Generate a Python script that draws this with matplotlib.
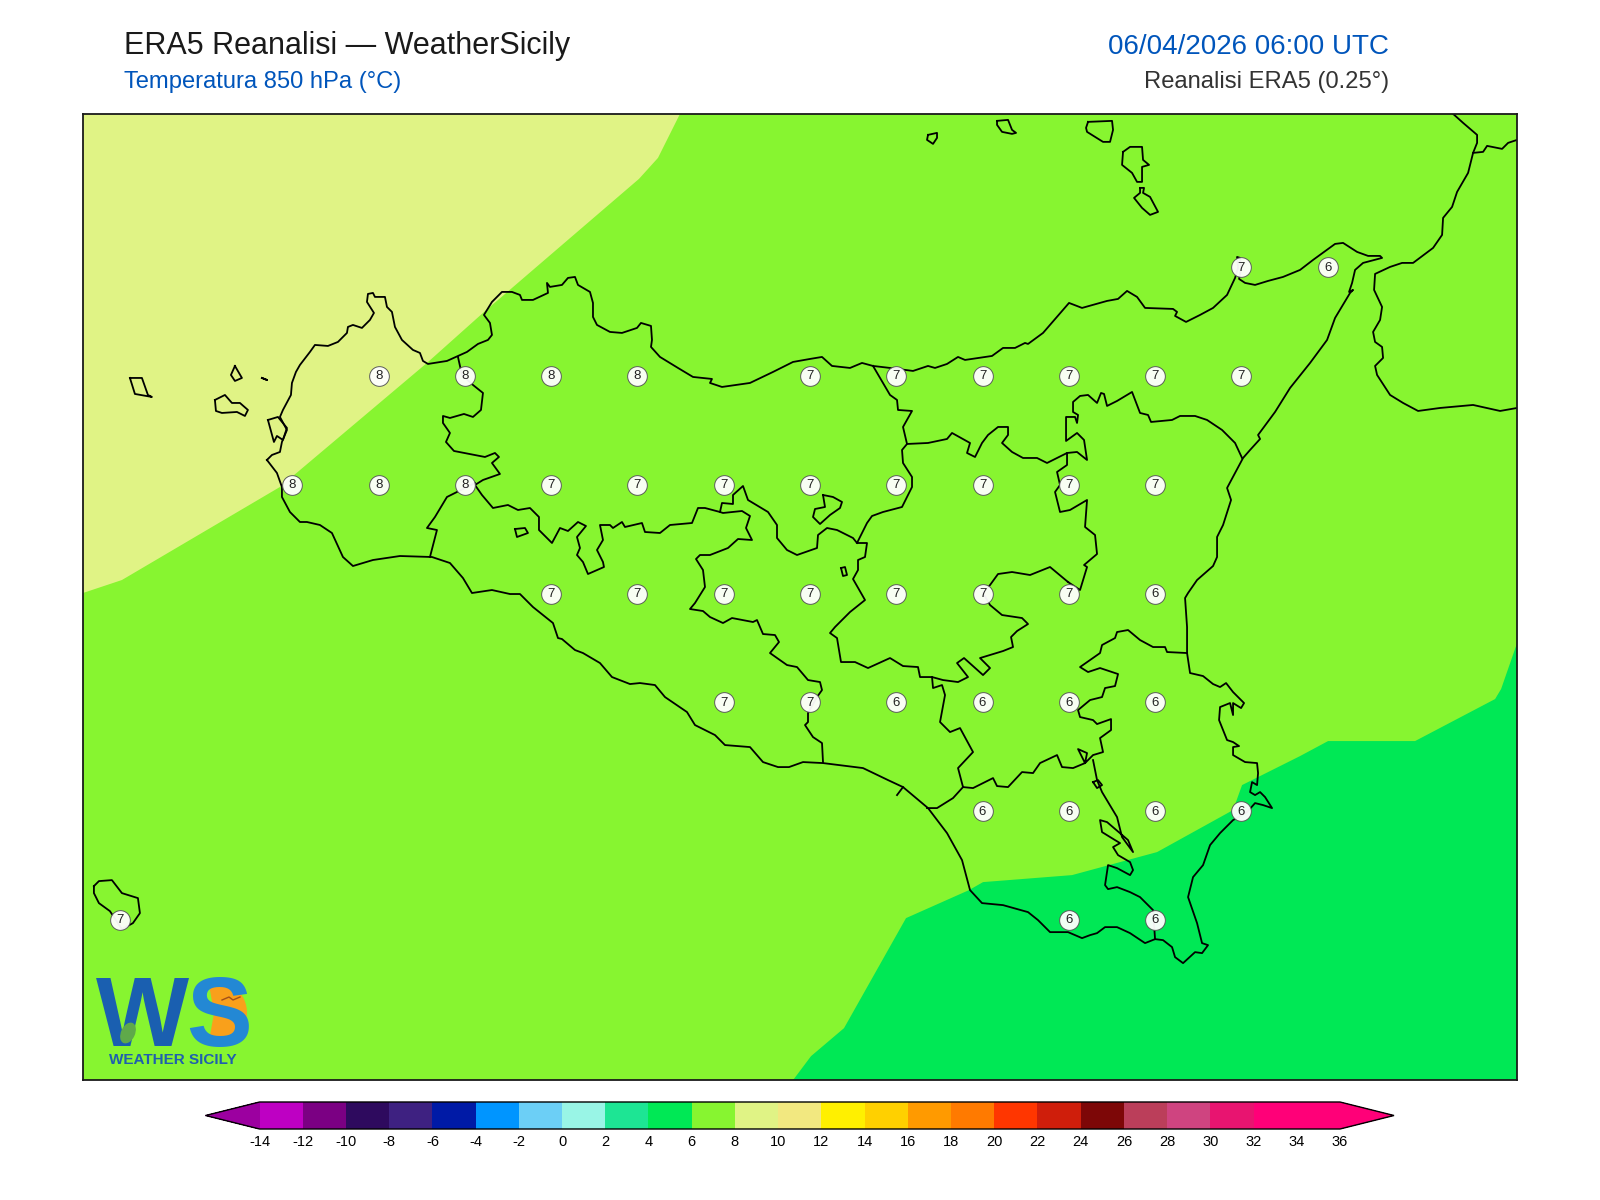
import matplotlib
matplotlib.use("Agg")
import matplotlib.pyplot as plt
from matplotlib.colors import ListedColormap, BoundaryNorm
from matplotlib.cm import ScalarMappable
from matplotlib.patches import Wedge, Ellipse

plt.rcParams['font.family'] = ['Liberation Sans', 'DejaVu Sans']

# colour scale of the map (degC)
LEVELS = list(range(-14, 37, 2))
BAND_COLORS = ["#BE00C3", "#7B0083", "#2E0A5E", "#3E2181", "#001AA6", "#0095FF",
               "#6CCFF6", "#99F5E6", "#1DE594", "#00E855", "#87F530", "#E0F385",
               "#F2E880", "#FFF000", "#FFD000", "#FF9A00", "#FF7A00", "#FF3600",
               "#CF1E0B", "#7D0707", "#BB3E5A", "#CF4480", "#E81470", "#FF0078",
               "#FF0078"]
UNDER_COLOR = "#9C00A0"
OVER_COLOR = "#FF0078"

# grid point labels, one list per latitude row
ROW_LATS = [38.25, 38.0, 37.75, 37.5, 37.25, 37.0, 36.75]
ROW_LONS = [
    [15.25, 15.5],
    [12.75, 13.0, 13.25, 13.5, 14.0, 14.25, 14.5, 14.75, 15.0, 15.25],
    [12.5, 12.75, 13.0, 13.25, 13.5, 13.75, 14.0, 14.25, 14.5, 14.75, 15.0],
    [13.25, 13.5, 13.75, 14.0, 14.25, 14.5, 14.75, 15.0],
    [13.75, 14.0, 14.25, 14.5, 14.75, 15.0],
    [14.5, 14.75, 15.0, 15.25],
    [12.0, 14.75, 15.0],
]
ROW_TEMPS = [
    [7, 6],
    [8, 8, 8, 8, 7, 7, 7, 7, 7, 7],
    [8, 8, 8, 7, 7, 7, 7, 7, 7, 7, 7],
    [7, 7, 7, 7, 7, 7, 7, 6],
    [7, 7, 6, 6, 6, 6],
    [6, 6, 6, 6],
    [7, 6, 6],
]

CONTOUR_10 = [(83, 593), (122, 580), (280, 487), (427, 363), (483, 313), (533, 270),
              (639, 179), (658, 158), (680, 114)]
CONTOUR_6 = [(793, 1080), (811, 1056), (844, 1028), (906, 918), (969, 890), (983, 882),
             (1072, 875), (1157, 852), (1233, 810), (1242, 785), (1300, 756), (1328, 741),
             (1415, 741), (1495, 699), (1501, 689), (1517, 643)]

COAST = [(267, 460), (272, 455), (280, 452), (282, 442), (287, 430), (280, 417), (283, 410),
         (291, 395), (292, 383), (296, 372), (300, 365), (310, 352), (315, 345), (328, 346),
         (338, 342), (347, 333), (348, 327), (353, 325), (362, 328), (370, 320), (374, 313),
         (367, 302), (368, 294), (373, 293), (375, 297), (385, 297), (387, 307), (392, 312),
         (395, 327), (402, 340), (413, 350), (420, 353), (423, 361), (428, 364), (447, 361),
         (467, 352), (478, 344), (488, 340), (492, 335), (490, 323), (484, 315), (492, 302),
         (502, 292), (512, 292), (520, 295), (522, 300), (533, 300), (548, 293), (547, 283),
         (550, 287), (562, 285), (568, 278), (575, 277), (578, 285), (590, 292), (593, 303),
         (593, 317), (597, 325), (610, 332), (622, 333), (637, 328), (641, 323), (651, 326),
         (652, 340), (651, 347), (660, 357), (678, 368), (693, 377), (712, 379), (710, 383),
         (722, 387), (750, 383), (773, 372), (793, 362), (810, 359), (822, 357), (832, 366),
         (850, 368), (862, 363), (873, 366), (890, 368), (913, 371), (928, 366), (935, 368),
         (947, 364), (958, 357), (965, 360), (992, 356), (1003, 348), (1015, 348), (1025, 343),
         (1028, 344), (1043, 333), (1069, 303), (1082, 308), (1107, 301), (1118, 299),
         (1127, 291), (1137, 297), (1145, 308), (1173, 309), (1177, 312), (1175, 316),
         (1186, 322), (1200, 315), (1213, 308), (1227, 295), (1235, 278), (1238, 268),
         (1237, 257), (1240, 258), (1241, 268), (1239, 279), (1245, 283), (1255, 285),
         (1268, 281), (1283, 277), (1300, 270), (1313, 260), (1335, 244), (1343, 243),
         (1357, 252), (1368, 256), (1380, 256), (1382, 258), (1363, 263), (1355, 270),
         (1352, 283), (1349, 292), (1353, 290), (1350, 293), (1335, 318), (1327, 340),
         (1310, 363), (1290, 388), (1275, 412), (1258, 435), (1260, 439), (1250, 450),
         (1243, 458), (1227, 488), (1231, 500), (1223, 525), (1217, 537), (1217, 557),
         (1213, 566), (1197, 580), (1188, 593), (1185, 598), (1187, 627), (1187, 653),
         (1190, 673), (1203, 676), (1213, 684), (1220, 687), (1226, 683), (1233, 692),
         (1244, 703), (1241, 708), (1233, 703), (1233, 715), (1230, 703), (1220, 707),
         (1219, 720), (1227, 740), (1233, 742), (1239, 746), (1233, 747), (1233, 755),
         (1245, 762), (1257, 763), (1258, 773), (1257, 785), (1252, 782), (1250, 792),
         (1255, 795), (1260, 792), (1265, 797), (1272, 808), (1263, 805), (1255, 803),
         (1247, 812), (1233, 820), (1220, 833), (1210, 845), (1203, 865), (1193, 877),
         (1188, 897), (1197, 923), (1202, 943), (1208, 945), (1202, 953), (1195, 952),
         (1183, 963), (1175, 957), (1172, 947), (1163, 940), (1155, 939), (1145, 943),
         (1130, 933), (1117, 927), (1105, 927), (1097, 933), (1090, 935), (1082, 938),
         (1068, 932), (1050, 932), (1038, 920), (1028, 912), (1003, 905), (982, 903),
         (970, 890), (962, 860), (947, 833), (928, 808), (903, 787), (888, 780), (863, 768),
         (823, 763), (803, 762), (789, 767), (778, 767), (763, 762), (750, 747), (725, 745),
         (715, 735), (695, 725), (687, 712), (665, 697), (655, 685), (640, 683), (630, 684),
         (612, 677), (600, 663), (583, 653), (575, 650), (562, 639), (558, 638), (553, 623),
         (533, 607), (520, 594), (510, 594), (492, 590), (472, 593), (463, 578), (450, 563),
         (432, 557), (400, 556), (373, 560), (353, 566), (343, 557), (332, 533), (320, 525),
         (307, 522), (300, 522), (290, 512), (282, 497), (282, 487), (277, 473), (267, 460)]

CALABRIA = [(1453, 114), (1463, 123), (1477, 135), (1477, 143), (1473, 153), (1468, 173),
            (1457, 192), (1452, 207), (1443, 218), (1442, 235), (1433, 248), (1413, 263),
            (1402, 263), (1390, 267), (1375, 274), (1374, 290), (1382, 307), (1380, 320),
            (1373, 332), (1375, 342), (1382, 347), (1383, 358), (1375, 366), (1377, 375),
            (1390, 395), (1403, 403), (1418, 411), (1440, 408), (1473, 405), (1500, 411),
            (1517, 408)]
CALABRIA_BORDER = [(1473, 153), (1483, 152), (1487, 146), (1502, 149), (1508, 143), (1517, 140)]

PROVINCE_LINES = [
    # Trapani / Palermo
    [(458, 357), (462, 375), (473, 385), (483, 393), (481, 410), (473, 417), (464, 414),
     (450, 418), (443, 416), (443, 423), (450, 433), (446, 442), (454, 451), (485, 457),
     (495, 453), (499, 457), (492, 463), (500, 474), (483, 480), (475, 485)],
    # Trapani / Agrigento
    [(475, 483), (457, 492), (447, 497), (435, 517), (427, 528), (437, 530), (430, 557)],
    # Palermo / Agrigento
    [(475, 485), (482, 495), (493, 508), (508, 505), (518, 510), (530, 508), (539, 517),
     (539, 530), (552, 543), (560, 528), (568, 531), (578, 522), (586, 526), (577, 537),
     (580, 548), (577, 555), (583, 562), (588, 574), (604, 567), (603, 562), (597, 550),
     (603, 540), (600, 525), (610, 525), (613, 528), (622, 522), (625, 527), (642, 523),
     (645, 532), (660, 533), (670, 525), (692, 523), (698, 508), (705, 508), (720, 512),
     (723, 513), (742, 511), (750, 516), (746, 528), (752, 540), (738, 539), (728, 548),
     (710, 555), (700, 555), (696, 559), (703, 570), (705, 587), (695, 603), (690, 609),
     (703, 611), (710, 617), (723, 623), (732, 618), (753, 622), (757, 620), (763, 634),
     (775, 635), (779, 642), (770, 653), (787, 665), (797, 667), (808, 680), (820, 682),
     (822, 690), (817, 697), (808, 713), (808, 722), (805, 725), (813, 737), (822, 743),
     (823, 762)],
    # Palermo / Caltanissetta
    [(720, 512), (722, 503), (733, 504), (733, 495), (743, 486), (748, 500), (768, 512),
     (777, 525), (777, 538), (787, 550), (797, 555), (817, 548), (818, 535), (827, 528),
     (837, 530), (853, 538), (857, 543), (867, 543), (865, 557), (858, 560), (858, 570),
     (853, 579), (865, 600), (850, 612), (835, 627), (830, 633), (837, 638), (841, 662),
     (855, 662), (868, 668), (890, 658), (903, 666), (918, 667), (920, 677), (932, 677),
     (943, 680), (958, 682), (968, 677), (957, 663), (964, 658), (983, 675), (990, 668),
     (980, 658), (1003, 651), (1013, 647), (1011, 637), (1017, 631), (1028, 624), (1022, 618),
     (1002, 615), (990, 605), (983, 593), (990, 585), (998, 574), (1012, 572), (1030, 575),
     (1050, 567), (1068, 582)],
    # Palermo / Messina
    [(857, 543), (867, 523), (872, 516), (883, 512), (902, 507), (912, 487), (912, 477),
     (903, 463), (902, 450), (907, 444), (903, 427), (912, 411), (898, 410), (897, 400),
     (890, 395), (873, 366)],
    # Enna north edge
    [(907, 444), (928, 443), (947, 439), (952, 433), (970, 443), (967, 453), (975, 457),
     (982, 443), (988, 435), (998, 427), (1008, 427), (1008, 435), (1002, 443), (1012, 452),
     (1023, 458), (1037, 458), (1047, 463), (1067, 453), (1067, 465), (1057, 472), (1060, 485),
     (1055, 492), (1060, 512), (1070, 510), (1087, 500), (1085, 527), (1095, 535), (1097, 554),
     (1084, 565), (1087, 567), (1080, 590), (1068, 582)],
    # Messina / Catania
    [(1067, 453), (1077, 452), (1087, 460), (1084, 440), (1077, 433), (1066, 441), (1066, 417),
     (1075, 417), (1077, 423), (1078, 415), (1073, 412), (1073, 402), (1080, 396), (1088, 395),
     (1097, 403), (1101, 393), (1104, 394), (1107, 406), (1117, 401), (1132, 392), (1140, 413),
     (1148, 415), (1151, 422), (1172, 420), (1180, 416), (1195, 416), (1207, 420), (1222, 430),
     (1235, 443), (1242, 458)],
    # Catania / Siracusa
    [(1187, 653), (1167, 652), (1165, 647), (1153, 647), (1140, 640), (1128, 630), (1117, 632),
     (1115, 638), (1102, 645), (1100, 653), (1080, 667), (1088, 672), (1100, 668), (1118, 674),
     (1115, 686), (1105, 688), (1102, 697), (1090, 700), (1078, 710), (1080, 717), (1093, 720),
     (1097, 724), (1111, 719), (1111, 730), (1100, 738), (1103, 752), (1093, 755), (1085, 763),
     (1078, 749), (1087, 753), (1085, 763), (1073, 768), (1062, 767), (1057, 755), (1040, 763),
     (1033, 773), (1022, 772), (1008, 787), (997, 786), (993, 778), (973, 788), (963, 787),
     (958, 768), (973, 752), (960, 728), (950, 732), (940, 722), (945, 695), (942, 685),
     (933, 688), (932, 677)],
    # Ragusa / Catania toward the Gela coast
    [(963, 787), (953, 798), (937, 808), (927, 808)],
    # Ragusa / Siracusa
    [(1093, 760), (1097, 780), (1102, 792), (1117, 817), (1122, 837), (1133, 852), (1128, 840),
     (1107, 822), (1100, 820), (1102, 832), (1115, 840), (1120, 843), (1113, 847), (1118, 855),
     (1130, 862), (1133, 870), (1130, 875), (1117, 868), (1108, 865), (1105, 885), (1108, 889),
     (1117, 887), (1130, 892), (1140, 897), (1153, 910), (1155, 939)],
    # small tick on the Gela coast
    [(897, 795), (903, 787)],
]

CLOSED_LOOPS = [
    # lakes
    [(823, 495), (833, 497), (842, 502), (840, 508), (830, 515), (820, 524), (813, 517),
     (815, 509), (825, 507)],
    [(515, 529), (525, 528), (528, 533), (517, 537)],
    [(841, 568), (845, 567), (847, 575), (843, 576)],
    [(1093, 782), (1098, 780), (1102, 785), (1097, 788)],
    # Egadi and Stagnone
    [(130, 378), (142, 378), (148, 395), (152, 397), (135, 394)],
    [(235, 366), (242, 378), (235, 381), (231, 375)],
    [(215, 400), (225, 395), (232, 403), (240, 403), (248, 410), (245, 416), (237, 412),
     (222, 413), (216, 411)],
    [(262, 378), (267, 380)],
    [(268, 420), (278, 417), (287, 428), (283, 440), (277, 436), (274, 442)],
    # Eolie
    [(928, 135), (937, 133), (937, 138), (933, 144), (927, 140)],
    [(997, 121), (1008, 120), (1012, 130), (1016, 133), (1012, 134), (1002, 132), (997, 125)],
    [(1088, 122), (1112, 121), (1113, 130), (1110, 142), (1103, 142), (1087, 132), (1086, 128)],
    [(1123, 152), (1130, 147), (1142, 147), (1143, 160), (1149, 165), (1142, 167), (1142, 182),
     (1137, 182), (1132, 173), (1122, 165)],
    [(1140, 188), (1144, 188), (1143, 193), (1150, 197), (1158, 212), (1150, 215), (1142, 208),
     (1134, 198), (1140, 193)],
    # Pantelleria
    [(94, 886), (99, 881), (112, 880), (122, 893), (138, 898), (140, 913), (133, 923), (122, 929),
     (110, 911), (99, 903), (94, 893)],
]


def to_lonlat(points):
    # georeference of the traced sheet: 345 columns and 435 rows per degree
    lons = [13.0 + (p[0] - 465) / 345 for p in points]
    lats = [38.0 - (p[1] - 376) / 435 for p in points]
    return lons, lats


cmap = ListedColormap(BAND_COLORS)
cmap.set_under(UNDER_COLOR)
cmap.set_over(OVER_COLOR)
norm = BoundaryNorm(LEVELS, cmap.N)

fig = plt.figure(figsize=(16, 12), dpi=100, facecolor="white")
ax = fig.add_axes([83 / 1600, 1 - 1080 / 1200, (1517 - 83) / 1600, (1080 - 114) / 1200])
ax.set_xlim(11.893, 16.049)
ax.set_ylim(36.382, 38.602)
ax.set_xticks([])
ax.set_yticks([])
ax.set_facecolor(cmap(norm(7)))
for spine in ax.spines.values():
    spine.set_linewidth(1.3)
    spine.set_color("#1a1a1a")
    spine.set_zorder(10)

# temperature bands either side of the 6-8 background
lon10, lat10 = to_lonlat(CONTOUR_10)
ax.fill(lon10 + [11.893], lat10 + [38.602], color=cmap(norm(9)), lw=0, zorder=1)
lon6, lat6 = to_lonlat(CONTOUR_6)
ax.fill(lon6 + [16.049], lat6 + [36.382], color=cmap(norm(5)), lw=0, zorder=1)

for line in [COAST, CALABRIA, CALABRIA_BORDER] + PROVINCE_LINES:
    lons, lats = to_lonlat(line)
    ax.plot(lons, lats, color="black", lw=1.3, solid_joinstyle="round", zorder=3)
for loop in CLOSED_LOOPS:
    lons, lats = to_lonlat(loop + loop[:1])
    ax.plot(lons, lats, color="black", lw=1.3, solid_joinstyle="round", zorder=3)

# value labels on the 0.25 degree grid
for lat, lons, temps in zip(ROW_LATS, ROW_LONS, ROW_TEMPS):
    for lon, temp in zip(lons, temps):
        ax.plot(lon, lat, "o", ms=14.2, mfc="white", mec="#555555", mew=0.7, alpha=0.95, zorder=5)
        ax.text(lon, lat - 0.001, str(temp), ha="center", va="center", fontsize=9.5,
                color="#222222", zorder=6)

# titles
fig.text(124 / 1600, 1 - 46 / 1200, "ERA5 Reanalisi — WeatherSicily", fontsize=22,
         color="#1a1a1a", va="center")
fig.text(124 / 1600, 1 - 82 / 1200, "Temperatura 850 hPa (°C)", fontsize=17.1,
         color="#0055BB", va="center")
fig.text(1389 / 1600, 1 - 47 / 1200, "06/04/2026 06:00 UTC", fontsize=20,
         color="#0055BB", va="center", ha="right")
fig.text(1389 / 1600, 1 - 82 / 1200, "Reanalisi ERA5 (0.25°)", fontsize=17.1,
         color="#333333", va="center", ha="right")

# colour bar, the axes run from tip to tip of the two arrows
cax = fig.add_axes([205.5 / 1600, 1 - 1129 / 1200, 1188.5 / 1600, 27 / 1200])
cb = fig.colorbar(ScalarMappable(norm=norm, cmap=cmap), cax=cax, orientation="horizontal",
                  extend="both", extendfrac=0.05, spacing="proportional", ticks=LEVELS)
cb.ax.tick_params(length=0, pad=4, labelsize=10.5)
cb.ax.set_xticklabels([str(v) for v in LEVELS])
cb.outline.set_linewidth(1.0)

# logo, drawn over the bottom left corner of the map
logo = fig.add_axes([90 / 1600, 1 - 1072 / 1200, 165 / 1600, 97 / 1200])
logo.set_xlim(90, 255)
logo.set_ylim(1072, 975)
logo.axis("off")
logo.add_patch(Wedge((214, 1013), 33, -100, 100, color="#F9A01B", lw=0))
logo.text(96, 1046, "W", fontsize=71, fontweight="bold", color="#1A5FB0", va="baseline")
logo.text(186, 1046, "S", fontsize=71, fontweight="bold", color="#2388D4", va="baseline")
logo.add_patch(Ellipse((128, 1033), 14, 22, angle=25, color="#5FA94A", lw=0, zorder=5))
logo.plot([222, 229, 233, 240], [1000, 997, 1000, 997], color="#A0501A", lw=1, zorder=5)
logo.text(173, 1060, "Weather Sicily".upper(), fontsize=11, fontweight="bold", color="#1F5FAE",
          ha="center", va="center")

fig.savefig("out.png", dpi=100)
